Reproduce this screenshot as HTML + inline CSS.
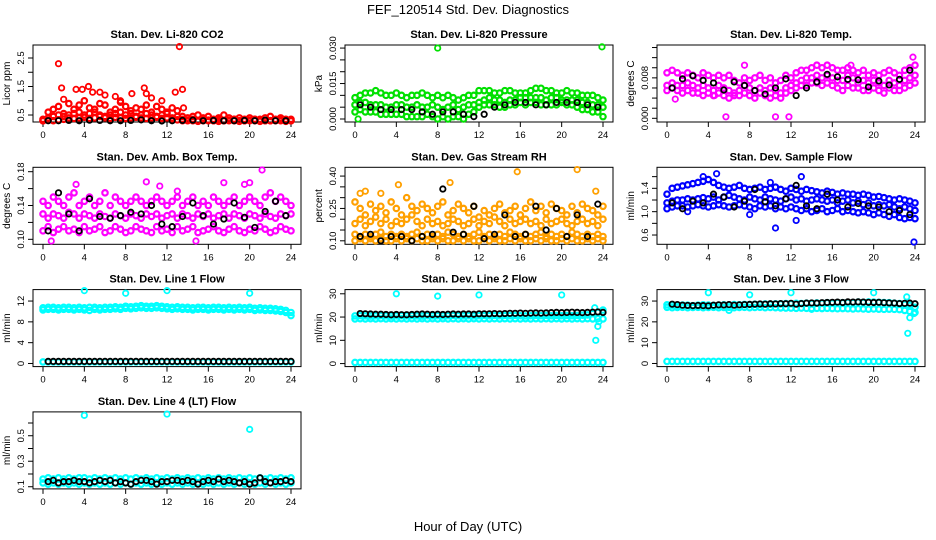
<!DOCTYPE html>
<html><head><meta charset="utf-8"><style>
html,body{margin:0;padding:0;background:#fff}
svg{display:block;font-family:"Liberation Sans",Arial,sans-serif}
</style></head><body>
<svg id="chart" width="936" height="540" viewBox="0 0 936 540">
<rect width="936" height="540" fill="#fff"/>
<text x="468" y="14" text-anchor="middle" font-size="13">FEF_120514  Std. Dev. Diagnostics</text>
<text x="468" y="531" text-anchor="middle" font-size="13">Hour of Day (UTC)</text>
</svg>
<script>
const xTicks = [0,4,8,12,16,20,24];
// P1 CO2
const co2A = [0.35,0.6,0.7,0.8,0.55,0.9,0.7,0.85,1.0,0.75,0.7,0.9,0.85,0.6,0.7,0.95,0.8,0.65,0.75,0.7,0.85,0.6,0.8,0.7,0.6,0.75,0.65,0.45,0.4,0.45,0.5,0.4,0.45,0.35,0.4,0.5,0.4,0.35,0.4,0.35,0.4,0.35,0.35,0.4,0.45,0.35,0.4,0.35,0.35];
const co2B = [0.3,0.4,0.45,0.5,0.45,0.5,0.55,0.6,0.5,0.55,0.6,0.5,0.45,0.5,0.55,0.6,0.5,0.55,0.45,0.5,0.55,0.5,0.45,0.5,0.55,0.4,0.45,0.35,0.3,0.35,0.3,0.35,0.3,0.3,0.35,0.3,0.3,0.35,0.3,0.3,0.3,0.35,0.3,0.3,0.3,0.3,0.35,0.3,0.3];
const co2C = [0.3,0.32,0.3,0.33,0.35,0.4,0.38,0.4,0.42,0.38,0.4,0.45,0.4,0.38,0.42,0.4,0.38,0.4,0.42,0.4,0.38,0.4,0.42,0.38,0.4,0.35,0.33,0.3,0.32,0.3,0.28,0.3,0.32,0.3,0.28,0.3,0.32,0.3,0.28,0.3,0.32,0.3,0.28,0.3,0.3,0.32,0.3,0.28,0.3];
const co2OutX = [1.5,1.8,2.0,3.2,3.8,4.4,4.8,5.5,6.0,7.0,7.5,8.6,9.8,10.0,10.5,12.8,13.2,13.5,13.6,11.5];
const co2OutY = [2.3,1.45,1.05,1.4,1.4,1.5,1.3,1.3,1.2,1.15,1.0,1.25,1.45,1.25,1.1,1.3,2.9,1.4,0.75,1.0];
const co2K = [0.3,0.3,0.31,0.3,0.32,0.31,0.3,0.3,0.31,0.33,0.3,0.29,0.3,0.31,0.32,0.3,0.31,0.3,0.3,0.31,0.3,0.32,0.3,0.3];
// P2 pressure
const presA = [.009,.010,.011,.011,.012,.011,.010,.010,.011,.010,.009,.010,.010,.011,.010,.009,.010,.009,.010,.009,.008,.009,.010,.010,.012,.012,.012,.011,.011,.012,.012,.011,.011,.011,.012,.013,.013,.012,.012,.011,.011,.012,.011,.011,.010,.010,.010,.009,.008];
const presB = [.006,.007,.007,.006,.006,.006,.005,.005,.006,.006,.005,.005,.006,.005,.005,.006,.005,.004,.005,.006,.004,.005,.006,.006,.007,.008,.009,.008,.008,.007,.008,.008,.009,.009,.009,.009,.009,.008,.009,.009,.008,.008,.008,.008,.007,.007,.006,.006,.005];
const presC = [.003,.004,.003,.003,.003,.002,.002,.002,.002,.002,.001,.001,.001,.001,.002,.001,.000,.001,.000,.001,.001,.000,.002,.003,.005,.006,.006,.006,.005,.005,.006,.006,.007,.006,.007,.007,.006,.006,.006,.006,.007,.006,.006,.005,.004,.004,.003,.003,.001];
const presOutX = [8,23.9,0.3];
const presOutY = [0.030,0.0305,0.000];
const presK = [.006,.005,.004,.004,.004,.004,.003,.002,.003,.003,.002,.001,.002,.005,.006,.007,.007,.006,.006,.007,.007,.007,.006,.005];
// P3 Li temp
const ltA = [.009,.0095,.009,.0085,.009,.0085,.008,.009,.0085,.008,.0085,.008,.0085,.0075,.007,.008,.0075,.008,.0085,.0075,.008,.007,.0075,.0085,.008,.009,.0095,.0095,.010,.0105,.010,.0105,.010,.0095,.0095,.010,.0095,.009,.0095,.0085,.009,.0085,.009,.0095,.009,.0085,.0095,.010,.0105];
const ltB = [.0065,.007,.0065,.0065,.007,.0065,.006,.0065,.006,.0055,.0065,.006,.0055,.005,.0055,.0065,.006,.0055,.006,.0055,.006,.0055,.005,.006,.0065,.007,.0075,.008,.008,.0085,.008,.0085,.008,.0075,.0075,.0085,.008,.007,.0075,.007,.0075,.007,.0065,.0075,.007,.0065,.0075,.008,.0085];
const ltC = [.0055,.006,.0055,.005,.0055,.005,.005,.0045,.005,.0045,.005,.0045,.004,.0045,.0045,.005,.0045,.004,.005,.0045,.004,.0045,.004,.005,.0055,.006,.0065,.0065,.007,.007,.0065,.007,.0065,.006,.0055,.0065,.006,.006,.0055,.0055,.006,.0055,.005,.006,.0055,.0055,.006,.0065,.007];
const ltOutX = [0.8,5.7,10.5,11.8,4.6,23.8,7.5,17.8];
const ltOutY = [0.0038,0.0003,0.0003,0.0003,0.0045,0.0121,0.0105,0.0105];
const ltK = [.006,.0078,.0084,.0075,.007,.0056,.0072,.0065,.0055,.0048,.006,.0078,.0045,.006,.0072,.0087,.0082,.0077,.0076,.0062,.0074,.0066,.0077,.0095];
// P4 amb box temp
const abA = [.145,.14,.15,.145,.14,.15,.155,.14,.145,.15,.14,.145,.155,.14,.15,.145,.14,.145,.15,.145,.14,.145,.15,.145,.14,.145,.15,.14,.145,.15,.14,.145,.14,.15,.145,.14,.145,.15,.14,.145,.15,.145,.14,.15,.155,.145,.15,.145,.14];
const abB = [.13,.125,.13,.128,.125,.132,.13,.125,.13,.128,.125,.13,.127,.125,.13,.128,.125,.13,.128,.125,.13,.127,.13,.125,.128,.13,.125,.13,.128,.125,.13,.127,.13,.125,.128,.13,.125,.13,.128,.125,.13,.128,.125,.13,.127,.125,.13,.128,.13];
const abC = [.11,.115,.108,.112,.115,.11,.112,.108,.115,.11,.112,.115,.108,.11,.115,.112,.108,.11,.115,.112,.11,.108,.115,.11,.112,.108,.115,.11,.112,.115,.108,.11,.112,.115,.11,.108,.112,.115,.11,.108,.112,.11,.115,.112,.108,.11,.115,.112,.11];
const abOutX = [0.8,14.8,21.2,3.2,10,17.5,20,11.3,19.5,13];
const abOutY = [0.098,0.098,0.182,0.165,0.168,0.167,0.167,0.163,0.165,0.157];
const abK = [.11,.155,.13,.11,.148,.127,.125,.128,.132,.13,.14,.118,.115,.127,.143,.128,.118,.124,.143,.126,.114,.133,.145,.128];
// P5 RH
const rhA = [.28,.25,.22,.27,.24,.26,.23,.28,.25,.22,.30,.26,.24,.27,.25,.23,.26,.28,.22,.24,.27,.25,.23,.26,.21,.24,.22,.25,.27,.23,.24,.26,.22,.25,.28,.24,.26,.23,.27,.25,.24,.22,.26,.23,.27,.25,.24,.22,.26];
const rhB = [.18,.2,.17,.19,.21,.18,.2,.17,.19,.18,.2,.22,.19,.17,.2,.18,.19,.17,.18,.2,.19,.17,.18,.2,.17,.19,.18,.21,.19,.17,.2,.18,.19,.2,.18,.19,.17,.2,.18,.19,.2,.18,.17,.19,.2,.18,.19,.17,.2];
const rhC = [.13,.12,.13,.12,.13,.14,.12,.13,.12,.13,.12,.13,.14,.12,.13,.12,.13,.12,.14,.13,.12,.13,.12,.13,.14,.12,.13,.12,.13,.12,.14,.13,.12,.13,.12,.13,.14,.12,.13,.12,.13,.12,.14,.13,.12,.13,.12,.13,.12];
const rhD = [.10,.11,.10,.11,.10,.11,.10,.10,.11,.10,.11,.10,.11,.10,.10,.11,.10,.11,.10,.10,.11,.10,.11,.10,.10,.11,.10,.11,.10,.10,.11,.10,.11,.10,.10,.11,.10,.11,.10,.10,.11,.10,.11,.10,.10,.11,.10,.11,.10];
const rhOutX = [4.2,9.2,15.7,21.5,2.5,0.5,23.3,1.0];
const rhOutY = [0.36,0.37,0.42,0.43,0.32,0.32,0.33,0.33];
const rhK = [.12,.13,.10,.12,.12,.10,.12,.13,.34,.14,.13,.26,.11,.13,.22,.12,.13,.26,.15,.25,.12,.22,.12,.27];
// P6 sample flow
const sfA = [1.3,1.4,1.42,1.44,1.46,1.48,1.5,1.52,1.55,1.5,1.45,1.42,1.4,1.42,1.45,1.4,1.38,1.4,1.42,1.38,1.4,1.42,1.38,1.35,1.4,1.38,1.35,1.38,1.36,1.34,1.32,1.35,1.33,1.3,1.32,1.3,1.3,1.28,1.3,1.28,1.25,1.26,1.24,1.22,1.2,1.22,1.2,1.18,1.15];
const sfB = [1.15,1.18,1.2,1.2,1.22,1.2,1.22,1.24,1.22,1.25,1.2,1.25,1.28,1.25,1.22,1.2,1.25,1.22,1.2,1.25,1.22,1.2,1.18,1.22,1.25,1.2,1.22,1.18,1.2,1.22,1.2,1.18,1.2,1.15,1.18,1.2,1.15,1.18,1.12,1.15,1.1,1.12,1.1,1.12,1.08,1.05,1.08,1.05,1.02];
const sfC = [1.05,1.08,1.1,1.1,1.08,1.1,1.12,1.1,1.08,1.1,1.12,1.1,1.08,1.1,1.12,1.1,1.08,1.05,1.1,1.08,1.1,1.05,1.08,1.05,1.08,1.05,1.02,1.05,1.0,1.02,1.05,1.0,1.02,1.05,1.0,1.02,1.0,0.98,1.0,0.98,0.95,0.98,0.95,0.92,0.95,0.9,0.88,0.9,0.88];
const sfOutX = [4.8,13,10,23.9,10.5,12.5,2,8,3.5];
const sfOutY = [1.65,1.6,1.5,0.48,0.72,0.85,1.0,0.95,1.6];
const sfK = [1.15,1.05,1.18,1.15,1.3,1.25,1.08,1.18,1.38,1.17,1.1,1.22,1.45,1.1,1.05,1.3,1.2,1.08,1.14,1.1,1.08,1.0,1.02,0.95];
// Line 1
const l1A = [10.7,10.8,10.8,10.7,10.8,10.8,10.7,10.8,10.7,10.8,10.8,10.7,10.8,10.8,10.9,10.8,11.0,10.9,11.0,11.1,11.0,11.0,11.1,11.0,10.9,10.8,10.9,10.8,10.8,10.7,10.8,10.8,10.7,10.8,10.8,10.7,10.8,10.7,10.8,10.7,10.8,10.6,10.7,10.6,10.6,10.5,10.4,10.2,9.8];
const l1B = [10.3,10.4,10.4,10.3,10.4,10.4,10.3,10.4,10.3,10.2,10.4,10.3,10.4,10.4,10.5,10.4,10.6,10.5,10.6,10.7,10.6,10.6,10.7,10.6,10.5,10.4,10.5,10.4,10.4,10.3,10.4,10.4,10.3,10.4,10.4,10.3,10.4,10.3,10.4,10.3,10.4,10.2,10.3,10.2,10.2,10.1,10.0,9.8,9.2];
const l1C = [0.3,0.3,0.3,0.3,0.3,0.3,0.3,0.3,0.3,0.3,0.3,0.3,0.3,0.3,0.3,0.3,0.3,0.3,0.3,0.3,0.3,0.3,0.3,0.3,0.3,0.3,0.3,0.3,0.3,0.3,0.3,0.3,0.3,0.3,0.3,0.3,0.3,0.3,0.3,0.3,0.3,0.3,0.3,0.3,0.3,0.3,0.3,0.3,0.3];
const l1OutX = [4,8,12,20];
const l1OutY = [14,13.5,14,13.5];
const l1K = [0.4,0.4,0.4,0.4,0.4,0.4,0.4,0.4,0.4,0.4,0.4,0.4,0.4,0.4,0.4,0.4,0.4,0.4,0.4,0.4,0.4,0.4,0.4,0.4,0.4,0.4,0.4,0.4,0.4,0.4,0.4,0.4,0.4,0.4,0.4,0.4,0.4,0.4,0.4,0.4,0.4,0.4,0.4,0.4,0.4,0.4,0.4,0.4];
// Line 2
const l2A = [20.5,20.6,20.5,20.4,20.5,20.6,20.5,20.4,20.5,20.6,20.5,20.6,20.5,20.4,20.6,20.5,20.6,20.5,20.6,20.7,20.6,20.5,20.6,20.5,20.6,20.7,20.6,20.7,20.6,20.7,20.6,20.7,20.6,20.5,20.6,20.7,20.6,20.7,20.6,20.7,20.6,20.7,20.6,20.7,20.8,20.9,21.5,22,23];
const l2B = [19.2,19.3,19.2,19.3,19.2,19.3,19.2,19.3,19.2,19.3,19.2,19.3,19.2,19.3,19.2,19.3,19.2,19.3,19.2,19.3,19.2,19.3,19.2,19.3,19.2,19.3,19.2,19.3,19.2,19.3,19.2,19.3,19.2,19.3,19.2,19.3,19.2,19.3,19.2,19.3,19.2,19.3,19.2,19.3,19.2,19.3,19.2,19.3,19.2];
const l2C = [0.5,0.5,0.5,0.5,0.5,0.5,0.5,0.5,0.5,0.5,0.5,0.5,0.5,0.5,0.5,0.5,0.5,0.5,0.5,0.5,0.5,0.5,0.5,0.5,0.5,0.5,0.5,0.5,0.5,0.5,0.5,0.5,0.5,0.5,0.5,0.5,0.5,0.5,0.5,0.5,0.5,0.5,0.5,0.5,0.5,0.5,0.5,0.5,0.5];
const l2OutX = [4,8,12,20,23.2,23.3,23.5,23.6];
const l2OutY = [30,29,29.5,29.5,24,10,16,18];
const l2K = [21.5,21.4,21.3,21.2,21.2,21.1,21.0,21.1,21.0,21.0,21.1,21.2,21.3,21.2,21.1,21.2,21.1,21.2,21.3,21.2,21.3,21.3,21.2,21.4,21.4,21.4,21.5,21.4,21.5,21.6,21.6,21.7,21.6,21.7,21.8,21.7,21.8,21.9,22.0,21.9,22.0,22.1,22.0,21.9,22.0,22.1,22.2,22.0];
// Line 3
const l3A = [28.2,28.0,27.9,28.1,28.0,27.8,28.0,28.2,28.1,27.9,28.0,28.2,28.1,28.3,28.2,28.4,28.3,28.5,28.4,28.6,28.5,28.7,28.6,28.8,28.7,28.9,28.8,29.0,28.9,29.1,29.0,29.2,29.1,29.3,29.2,29.4,29.3,29.5,29.4,29.6,29.5,29.4,29.3,29.2,29.0,28.8,28.5,28.0,27.0];
const l3B = [27.0,26.8,26.9,27.0,26.8,26.9,27.0,26.8,26.9,27.0,26.8,26.9,27.0,26.8,26.9,27.0,26.8,26.9,27.0,26.8,26.9,26.8,26.7,26.6,26.6,26.5,26.6,26.5,26.4,26.5,26.4,26.5,26.4,26.3,26.4,26.3,26.2,26.3,26.2,26.1,26.2,26.1,26.0,26.1,26.0,25.9,25.5,25.0,24.5];
const l3C = [1.0,1.0,1.0,1.0,1.0,1.0,1.0,1.0,1.0,1.0,1.0,1.0,1.0,1.0,1.0,1.0,1.0,1.0,1.0,1.0,1.0,1.0,1.0,1.0,1.0,1.0,1.0,1.0,1.0,1.0,1.0,1.0,1.0,1.0,1.0,1.0,1.0,1.0,1.0,1.0,1.0,1.0,1.0,1.0,1.0,1.0,1.0,1.0,1.0];
const l3OutX = [4,8,12,20,23.3,23.5,23.9,23.2,6,14];
const l3OutY = [34,33,34,34,14.5,22,24,32,25.5,26];
const l3K = [28.5,28.3,28.0,27.9,27.8,27.9,27.8,27.7,28.0,28.2,28.1,28.3,28.0,28.2,28.3,28.4,28.5,28.6,28.5,28.7,28.6,28.8,28.7,28.9,28.5,28.8,29.0,29.1,29.0,29.2,29.3,29.4,29.5,29.3,29.6,29.5,29.6,29.5,29.4,29.3,29.4,29.2,29.1,29.0,28.8,28.9,29.0,28.7];
// Line 4
const l4A = [0.16,0.17,0.16,0.17,0.16,0.17,0.16,0.17,0.17,0.16,0.17,0.16,0.17,0.16,0.17,0.16,0.17,0.16,0.17,0.16,0.17,0.16,0.17,0.16,0.17,0.16,0.17,0.16,0.17,0.16,0.17,0.16,0.17,0.16,0.17,0.16,0.17,0.16,0.17,0.16,0.17,0.16,0.17,0.16,0.17,0.16,0.17,0.16,0.17];
const l4B = [0.13,0.12,0.13,0.12,0.13,0.12,0.13,0.12,0.13,0.12,0.13,0.12,0.13,0.12,0.13,0.12,0.13,0.12,0.13,0.12,0.13,0.12,0.13,0.12,0.13,0.12,0.13,0.12,0.13,0.12,0.13,0.12,0.13,0.12,0.13,0.12,0.13,0.12,0.13,0.12,0.13,0.12,0.13,0.12,0.13,0.12,0.13,0.12,0.13];
const l4OutX = [4,12,20];
const l4OutY = [0.66,0.67,0.55];
const l4K = [0.14,0.15,0.13,0.14,0.14,0.15,0.14,0.14,0.13,0.14,0.15,0.14,0.15,0.13,0.14,0.13,0.12,0.14,0.15,0.15,0.14,0.12,0.14,0.14,0.15,0.15,0.14,0.15,0.14,0.12,0.14,0.15,0.14,0.16,0.14,0.15,0.14,0.13,0.14,0.12,0.13,0.17,0.14,0.13,0.14,0.14,0.15,0.14];

const NS = 'http://www.w3.org/2000/svg';
const svg = document.getElementById('chart');
function mk(tag, attrs, parent) {
  const e = document.createElementNS(NS, tag);
  for (const k in attrs) e.setAttribute(k, attrs[k]);
  parent.appendChild(e);
  return e;
}
function xsFor(arr) {
  return arr.map((v, i) => arr.length === 49 ? i * 0.5 : (arr.length === 48 ? i * 0.5 + 0.5 : i + 0.5));
}
function panel(cfg) {
  const g = mk('g', {}, svg);
  
  
  const L = 33 + cfg.col * 312, R = L + 268;
  const T = 45 + cfg.row * 122.3, B = T + 77;
  const sx = h => L + 10 + h * (248 / 24);
  const sy = v => B - (v - cfg.lo) / (cfg.hi - cfg.lo) * (B - T);
  const title = mk('text', {x: (L + R) / 2, y: T - 7, 'text-anchor': 'middle', 'font-size': 11, 'font-weight': 'bold'}, g);
  title.textContent = cfg.title;
  
  
  const box = mk('rect', {x: L, y: T, width: R - L, height: B - T, fill: 'none', stroke: '#000', 'stroke-width': 1}, g);
  
  
  xTicks.forEach(t => {
    const x = sx(t);
    mk('line', {x1: x, x2: x, y1: B, y2: B + 5, stroke: '#000'}, g);
    const tx = mk('text', {x: x, y: B + 16, 'text-anchor': 'middle', 'font-size': 9.5}, g);
    tx.textContent = t;
    
    
  });
  cfg.yt.forEach((t, i) => {
    const y = sy(t);
    mk('line', {x1: L, x2: L - 5, y1: y, y2: y, stroke: '#000'}, g);
    if (cfg.yl[i]) {
      const ty = mk('text', {x: L - 9, y: y, 'text-anchor': 'middle', 'font-size': 9.5, transform: `rotate(-90 ${L - 9} ${y})`}, g);
      ty.textContent = cfg.yl[i];
      
      
    }
  });
  const yt = mk('text', {x: L - 23, y: (T + B) / 2, 'text-anchor': 'middle', 'font-size': 10, transform: `rotate(-90 ${L - 23} ${(T + B) / 2})`}, g);
  yt.textContent = cfg.ytitle;
  
  
  function pts(xs, ys, color, nm, sw) {
    ys.forEach((v, i) => {
      const c = mk('circle', {cx: sx(xs[i]), cy: sy(v), r: 2.7, fill: 'none', stroke: color, 'stroke-width': sw}, g);
      
      
    });
  }
  cfg.series.forEach(s => pts(xsFor(s), s, cfg.color, 'point', 2.2));
  pts(cfg.ox, cfg.oy, cfg.color, 'outlier-point', 1.8);
  pts(xsFor(cfg.k), cfg.k, '#000', 'mean-point', 1.8);
}
panel({name:'panel-co2',col:0,row:0,title:'Stan. Dev. Li-820 CO2',ytitle:'Licor ppm',lo:0.255,hi:2.956,yt:[0.5,1,1.5,2,2.5],yl:['0.5','','1.5','','2.5'],color:'#ff0000',series:[co2A,co2B,co2C],ox:co2OutX,oy:co2OutY,k:co2K});
panel({name:'panel-pressure',col:1,row:0,title:'Stan. Dev. Li-820 Pressure',ytitle:'kPa',lo:-0.00127,hi:0.0313,yt:[0,.005,.01,.015,.02,.025,.03],yl:['0.000','','','0.015','','','0.030'],color:'#00e000',series:[presA,presB,presC],ox:presOutX,oy:presOutY,k:presK});
panel({name:'panel-li-temp',col:2,row:0,title:'Stan. Dev. Li-820 Temp.',ytitle:'degrees C',lo:-0.00073,hi:0.0145,yt:[0,.002,.004,.006,.008,.010,.012,.014],yl:['0.000','','','','0.008','','',''],color:'#ff00ff',series:[ltA,ltB,ltC],ox:ltOutX,oy:ltOutY,k:ltK});
panel({name:'panel-amb-box-temp',col:0,row:1,title:'Stan. Dev. Amb. Box Temp.',ytitle:'degrees C',lo:0.0941,hi:0.1852,yt:[.10,.12,.14,.16,.18],yl:['0.10','','0.14','','0.18'],color:'#ff00ff',series:[abA,abB,abC],ox:abOutX,oy:abOutY,k:abK});
panel({name:'panel-gas-rh',col:1,row:1,title:'Stan. Dev. Gas Stream RH',ytitle:'percent',lo:0.0838,hi:0.4407,yt:[.10,.15,.20,.25,.30,.35,.40],yl:['0.10','','','0.25','','','0.40'],color:'#ffa000',series:[rhA,rhB,rhC,rhD],ox:rhOutX,oy:rhOutY,k:rhK});
panel({name:'panel-sample-flow',col:2,row:1,title:'Stan. Dev. Sample Flow',ytitle:'ml/min',lo:0.441,hi:1.76,yt:[.6,.8,1.0,1.2,1.4,1.6],yl:['0.6','','1.0','','1.4',''],color:'#0000ff',series:[sfA,sfB,sfC],ox:sfOutX,oy:sfOutY,k:sfK});
panel({name:'panel-line1',col:0,row:2,title:'Stan. Dev. Line 1 Flow',ytitle:'ml/min',lo:-0.6,hi:14.2,yt:[0,4,8,12],yl:['0','4','8','12'],color:'#00ffff',series:[l1A,l1B,l1C],ox:l1OutX,oy:l1OutY,k:l1K});
panel({name:'panel-line2',col:1,row:2,title:'Stan. Dev. Line 2 Flow',ytitle:'ml/min',lo:-1.3,hi:31.8,yt:[0,10,20,30],yl:['0','10','20','30'],color:'#00ffff',series:[l2A,l2B,l2C],ox:l2OutX,oy:l2OutY,k:l2K});
panel({name:'panel-line3',col:2,row:2,title:'Stan. Dev. Line 3 Flow',ytitle:'ml/min',lo:-1.5,hi:35.5,yt:[0,10,20,30],yl:['0','10','20','30'],color:'#00ffff',series:[l3A,l3B,l3C],ox:l3OutX,oy:l3OutY,k:l3K});
panel({name:'panel-line4',col:0,row:3,title:'Stan. Dev. Line 4 (LT) Flow',ytitle:'ml/min',lo:0.083,hi:0.687,yt:[.1,.2,.3,.4,.5,.6],yl:['0.1','','0.3','','0.5',''],color:'#00ffff',series:[l4A,l4B],ox:l4OutX,oy:l4OutY,k:l4K});
</script>
</body></html>
